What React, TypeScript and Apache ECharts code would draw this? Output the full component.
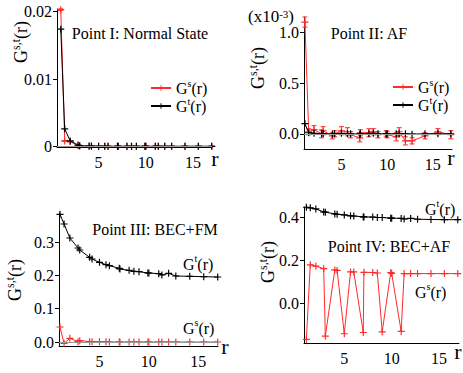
import React, { useEffect, useRef } from 'react';
import * as echarts from 'echarts';

// lattice distances r (along axis and diagonal)
const R = [1, 1.414, 2, 2.828, 3, 4, 4.243, 5, 5.657, 6, 7, 7.071, 8, 8.485, 9, 9.899, 10, 11, 11.314, 12, 12.728, 14.142, 15.556, 16.971];

// Point I: Normal State
const GS_I = [0.0203, 0.0008, 0.0007, 0.0001, 0.00005, 0.00002, 0.00003, 0, 0.00002, 0, 0, 0, 0, 0, 0, 0, 0, 0, 0.00002, 0, 0, 0.00001, 0.00001, 0];
const GS_I_ERR = [0.00012, 0.00006, 0.00005, 0.00004, 0.00004, 0.00004, 0.00004, 0.00004, 0.00004, 0.00004, 0.00004, 0.00004, 0.00004, 0.00004, 0.00004, 0.00004, 0.00004, 0.00004, 0.00004, 0.00004, 0.00004, 0.00004, 0.00004, 0.00004];
const GT_I = [0.0174, 0.0026, 0.0008, 0.0002, 0.0001, 0.00003, 0.00002, 0.00001, 0, 0, 0, 0, 0, 0, 0, 0, 0, 0, 0, 0, 0, 0, 0, 0];

// Point II: AF (x10^-3)
const GS_II = [1.10, 0.02, 0.04, 0.0, 0.03, -0.02, 0.0, 0.03, 0.02, -0.01, -0.04, 0.01, 0.01, 0.02, -0.01, 0.0, -0.01, -0.03, 0.02, -0.07, -0.07, -0.02, 0.02, -0.01];
const GS_II_ERR = [0.05, 0.03, 0.04, 0.04, 0.04, 0.03, 0.03, 0.04, 0.04, 0.03, 0.04, 0.03, 0.04, 0.03, 0.03, 0.03, 0.03, 0.04, 0.04, 0.04, 0.03, 0.03, 0.03, 0.04];
const GT_II = [0.10, 0.01, 0.005, 0.0, 0.002, -0.004, 0.0, 0.004, 0.0, 0.0, -0.004, 0.0, 0.0, 0.004, 0.0, -0.004, 0.0, 0.0, 0.0, 0.0, -0.004, 0.0, 0.0, 0.0];

// Point III: BEC+FM
const GT_III = [0.383, 0.354, 0.312, 0.282, 0.276, 0.254, 0.249, 0.239, 0.232, 0.229, 0.221, 0.219, 0.215, 0.212, 0.211, 0.207, 0.207, 0.205, 0.201, 0.206, 0.198, 0.197, 0.196, 0.195];
const GS_III = [0.045, -0.004, 0.011, 0.001, 0.004, 0.001, 0.001, 0.0005, 0.0005, 0, 0, 0, 0, 0, 0, 0, 0, 0, 0, 0, 0, 0, 0, 0];

// Point IV: BEC+AF
const GT_IV = [0.446, 0.443, 0.438, 0.424, 0.423, 0.415, 0.413, 0.41, 0.406, 0.405, 0.401, 0.401, 0.4, 0.398, 0.398, 0.395, 0.395, 0.394, 0.391, 0.394, 0.39, 0.389, 0.388, 0.388];
const GS_IV = [-0.169, 0.178, 0.172, 0.16, -0.154, 0.154, 0.152, -0.143, 0.145, 0.145, -0.137, 0.143, 0.142, 0.14, -0.134, 0.142, 0.138, -0.132, 0.137, 0.137, 0.137, 0.137, 0.137, 0.137];

const X_TICKS = [5, 10, 15];
const Y_TICKS_I = [0, 0.01, 0.02];
const Y_TICKS_II = [0, 0.5, 1.0];
const Y_TICKS_III = [0, 0.1, 0.2, 0.3];
const Y_TICKS_IV = [0, 0.2, 0.4];

const FONT = "'Liberation Serif', 'Times New Roman', 'DejaVu Serif', serif";
const RED = '#ff2a2a';
const BLACK = '#000000';
const PLUS = 'path://M-1,-6H1V-1H6V1H1V6H-1V1H-6V-1H-1Z';

const pairs = (ys: number[]) => R.map((r, i) => [r, ys[i]]);
const errData = (ys: number[], es: number[]) => R.map((r, i) => [r, ys[i] - es[i], ys[i] + es[i]]);

const lineSeries = (name: string, idx: number, ys: number[], color: string, z: number, zero = false) => {
  const s: any = {
    name,
    type: 'line',
    xAxisIndex: idx,
    yAxisIndex: idx,
    data: pairs(ys),
    symbol: PLUS,
    symbolSize: 7,
    showSymbol: true,
    lineStyle: { color, width: 1 },
    itemStyle: { color, borderWidth: 0 },
    clip: false,
    z,
  };
  if (zero) {
    s.markLine = {
      silent: true,
      symbol: 'none',
      label: { show: false },
      lineStyle: { color: '#9a9a9a', width: 1, type: 'solid' },
      data: [{ yAxis: 0 }],
    };
  }
  return s;
};

const errorSeries = (idx: number, data: number[][], color: string) => ({
  type: 'custom',
  xAxisIndex: idx,
  yAxisIndex: idx,
  data,
  silent: true,
  z: 1,
  encode: { x: 0, y: [1, 2] },
  renderItem: (params: any, api: any) => {
    const x = api.value(0);
    const lo = api.coord([x, api.value(1)]);
    const hi = api.coord([x, api.value(2)]);
    const w = 2.5;
    const st = { stroke: color, lineWidth: 1 };
    return {
      type: 'group',
      children: [
        { type: 'line', shape: { x1: lo[0], y1: lo[1], x2: hi[0], y2: hi[1] }, style: st },
        { type: 'line', shape: { x1: lo[0] - w, y1: lo[1], x2: lo[0] + w, y2: lo[1] }, style: st },
        { type: 'line', shape: { x1: hi[0] - w, y1: hi[1], x2: hi[0] + w, y2: hi[1] }, style: st },
      ],
    };
  },
});

const xAxis = (idx: number, min: number, max: number) => ({
  type: 'value',
  gridIndex: idx,
  min,
  max,
  axisLine: { show: true, onZero: false, lineStyle: { color: BLACK, width: 1 } },
  axisTick: { show: false },
  splitLine: { show: false },
  axisLabel: { customValues: X_TICKS, color: BLACK, fontFamily: FONT, fontSize: 16, margin: 7 },
});

const yAxis = (idx: number, min: number, max: number, ticks: number[], fmt: (v: number) => string) => ({
  type: 'value',
  gridIndex: idx,
  min,
  max,
  axisLine: { show: true, onZero: false, lineStyle: { color: BLACK, width: 1 } },
  axisTick: { show: true, customValues: ticks, length: 4, lineStyle: { color: BLACK } },
  axisLabel: { customValues: ticks, formatter: fmt, color: BLACK, fontFamily: FONT, fontSize: 16, margin: 5 },
  splitLine: { show: false },
});

const richG = (size: number, lh: number) => ({
  g: { fontFamily: FONT, fontSize: size, lineHeight: lh, fill: BLACK },
  s: { fontFamily: FONT, fontSize: Math.round(size * 0.65), lineHeight: Math.round(size * 0.55), verticalAlign: 'top', fill: BLACK },
});

const gText = (x: number, y: number, text: string, align = 'left', size = 16, rotation = 0, lh = size + 5) => ({
  type: 'text',
  x,
  y,
  rotation,
  silent: true,
  style: {
    text,
    rich: richG(size, lh),
    align,
    verticalAlign: 'middle',
    fontFamily: FONT,
    fontSize: size,
    fill: BLACK,
  },
});

const plainText = (x: number, y: number, text: string, size = 16, align = 'center') => ({
  type: 'text',
  x,
  y,
  silent: true,
  style: { text, fontFamily: FONT, fontSize: size, fill: BLACK, align, verticalAlign: 'middle' },
});

const legendRich = {
  g: { fontFamily: FONT, fontSize: 16, lineHeight: 20, color: BLACK },
  s: { fontFamily: FONT, fontSize: 10, lineHeight: 9, verticalAlign: 'top', color: BLACK },
};
const legendFmt = (name: string) => (name.startsWith('Gs') ? '{g|G}{s|s}{g|(r)}' : '{g|G}{s|t}{g|(r)}');

const legendBase = {
  orient: 'vertical',
  padding: 0,
  itemGap: 0,
  itemWidth: 20,
  itemHeight: 7,
  selectedMode: false,
  formatter: legendFmt,
  itemStyle: { borderWidth: 0 },
  textStyle: { fontFamily: FONT, rich: legendRich },
};

export default function App() {
  const ref = useRef<HTMLDivElement>(null);
  useEffect(() => {
    if (!ref.current) return;
    const chart = echarts.init(ref.current, undefined, { renderer: 'svg' });
    const fmt1 = (v: number) => v.toFixed(1);
    const option: any = {
      animation: false,
      backgroundColor: '#ffffff',
      textStyle: { fontFamily: FONT },
      grid: [
        { left: 57, top: 9, width: 155, height: 138 },
        { left: 304, top: 17, width: 148, height: 132 },
        { left: 59, top: 213, width: 159, height: 133 },
        { left: 304, top: 207, width: 155, height: 136 },
      ],
      xAxis: [xAxis(0, 0.6, 17), xAxis(1, 0.9, 17.1), xAxis(2, 0.9, 17), xAxis(3, 0.75, 17.1)],
      yAxis: [
        yAxis(0, -0.0001, 0.0204, Y_TICKS_I, (v: number) => (v === 0 ? '0' : v.toFixed(2))),
        yAxis(1, -0.15, 1.15, Y_TICKS_II, fmt1),
        yAxis(2, -0.012, 0.387, Y_TICKS_III, fmt1),
        yAxis(3, -0.186, 0.447, Y_TICKS_IV, fmt1),
      ],
      legend: [
        { ...legendBase, data: ['Gs_I', 'Gt_I'], left: 150, top: 78 },
        { ...legendBase, data: ['Gs_II', 'Gt_II'], left: 392, top: 77 },
      ],
      series: [
        errorSeries(0, errData(GS_I, GS_I_ERR), RED),
        lineSeries('Gs_I', 0, GS_I, RED, 2, true),
        lineSeries('Gt_I', 0, GT_I, BLACK, 3),
        errorSeries(1, errData(GS_II, GS_II_ERR), RED),
        lineSeries('Gs_II', 1, GS_II, RED, 2, true),
        lineSeries('Gt_II', 1, GT_II, BLACK, 3),
        lineSeries('Gt_III', 2, GT_III, BLACK, 3),
        lineSeries('Gs_III', 2, GS_III, RED, 2, true),
        lineSeries('Gt_IV', 3, GT_IV, BLACK, 3),
        lineSeries('Gs_IV', 3, GS_IV, RED, 2),
      ],
      graphic: [
        plainText(140, 33, 'Point I: Normal State'),
        plainText(369, 33, 'Point II: AF'),
        plainText(155, 229, 'Point III: BEC+FM'),
        plainText(389, 246, 'Point IV: BEC+AF'),
        gText(183, 264, '{g|G}{s|t}{g|(r)}'),
        gText(183, 328, '{g|G}{s|s}{g|(r)}'),
        gText(425, 209, '{g|G}{s|t}{g|(r)}'),
        gText(415, 292, '{g|G}{s|s}{g|(r)}'),
        gText(21, 42, '{g|G}{s|s,t}{g|(r)}', 'center', 18, Math.PI / 2),
        gText(258, 68, '{g|G}{s|s,t}{g|(r)}', 'center', 18, Math.PI / 2),
        gText(15, 280, '{g|G}{s|s,t}{g|(r)}', 'center', 18, Math.PI / 2),
        gText(268, 262, '{g|G}{s|s,t}{g|(r)}', 'center', 18, Math.PI / 2),
        gText(248, 16, '{g|(x10}{s|-3}{g|)}', 'left', 17, 0, 15),
        plainText(215, 158, 'r', 22),
        plainText(451, 157, 'r', 22),
        plainText(225, 346, 'r', 22),
        plainText(458, 351, 'r', 22),
      ],
    };
    chart.setOption(option);
    return () => chart.dispose();
  }, []);
  return <div ref={ref} style={{ width: 463, height: 373, position: 'absolute', left: 0, top: 0 }} />;
}
